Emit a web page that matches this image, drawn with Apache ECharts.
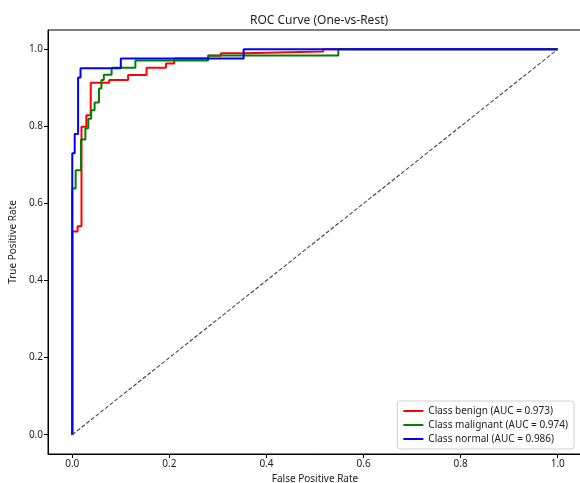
<!DOCTYPE html>
<html>
<head>
<meta charset="utf-8">
<script src="https://cdn.jsdelivr.net/npm/echarts@6/dist/echarts.min.js"></script>
<style>
  html, body { margin: 0; padding: 0; background: #fff; }
  #roc { width: 580px; height: 483px; }
</style>
</head>
<body>
<div id="roc"></div>
<script>
// ROC 曲线数据（拐点）
var benignFpr = [0, 0, 0.011, 0.011, 0.019, 0.019, 0.029, 0.029, 0.038, 0.038, 0.076, 0.076, 0.115, 0.115, 0.153, 0.153, 0.193, 0.193, 0.21, 0.21, 0.28, 0.28, 0.306, 0.306, 0.353, 0.353, 0.517, 0.517, 1];
var benignTpr = [0, 0.527, 0.527, 0.541, 0.541, 0.799, 0.799, 0.829, 0.829, 0.913, 0.913, 0.920, 0.920, 0.933, 0.933, 0.952, 0.952, 0.963, 0.963, 0.976, 0.976, 0.983, 0.983, 0.99, 0.99, 0.994, 0.994, 1, 1];

var malignantFpr = [0, 0, 0.007, 0.007, 0.018, 0.018, 0.027, 0.027, 0.033, 0.033, 0.039, 0.039, 0.046, 0.046, 0.055, 0.055, 0.06, 0.06, 0.065, 0.065, 0.081, 0.081, 0.13, 0.13, 0.28, 0.28, 0.548, 0.548, 1];
var malignantTpr = [0, 0.639, 0.639, 0.686, 0.686, 0.766, 0.766, 0.795, 0.795, 0.82, 0.82, 0.842, 0.842, 0.862, 0.862, 0.898, 0.898, 0.92, 0.92, 0.934, 0.934, 0.952, 0.952, 0.971, 0.971, 0.984, 0.984, 1, 1];

var normalFpr = [0, 0, 0.005, 0.005, 0.012, 0.012, 0.017, 0.017, 0.10, 0.10, 0.353, 0.353, 1];
var normalTpr = [0, 0.73, 0.73, 0.78, 0.78, 0.927, 0.927, 0.951, 0.951, 0.976, 0.976, 1, 1];

var chanceFpr = [0, 1];
var chanceTpr = [0, 1];

var classNames = ['Class benign (AUC = 0.973)', 'Class malignant (AUC = 0.974)', 'Class normal (AUC = 0.986)'];
var classColors = ['#ff0000', '#008000', '#0000ff'];
var tickValues = [0, 0.2, 0.4, 0.6, 0.8, 1.0];

function pairs(xs, ys) {
	var out = [];
	for (var i = 0; i < xs.length; i++) {
		out.push([xs[i], ys[i]]);
	}
	return out;
}

var chart = echarts.init(document.getElementById('roc'), null, { renderer: 'canvas' });

var font = 'Noto Sans';
var textColor = '#222';

function makeAxis(name, isX) {
	return {
		type: 'value',
		min: -0.05,
		max: 1.05,
		name: name,
		nameLocation: 'middle',
		nameGap: isX ? 19 : 23,
		nameTextStyle: { color: textColor, fontFamily: font, fontSize: 10 },
		axisLine: { show: true, onZero: false, lineStyle: { color: '#000', width: 1 } },
		axisTick: {
			show: true,
			inside: false,
			length: 4,
			customValues: tickValues,
			lineStyle: { color: '#000', width: 1 }
		},
		axisLabel: {
			customValues: tickValues,
			color: textColor,
			fontFamily: font,
			fontSize: 10,
			margin: 5,
			formatter: function (v) { return v.toFixed(1); }
		},
		splitLine: { show: false }
	};
}

var series = [];
var fprs = [benignFpr, malignantFpr, normalFpr];
var tprs = [benignTpr, malignantTpr, normalTpr];
for (var k = 0; k < 3; k++) {
	series.push({
		name: classNames[k],
		type: 'line',
		showSymbol: false,
		symbol: 'none',
		animation: false,
		lineStyle: { color: classColors[k], width: 2 },
		itemStyle: { color: classColors[k] },
		data: pairs(fprs[k], tprs[k])
	});
}
// 随机猜测对角线
series.push({
	name: 'chance',
	type: 'line',
	symbol: 'none',
	animation: false,
	lineStyle: { color: '#444', width: 1.1, type: [4, 2] },
	data: pairs(chanceFpr, chanceTpr)
});

var option = {
	animation: false,
	title: {
		text: 'ROC Curve (One-vs-Rest)',
		left: 314,
		textAlign: 'center',
		top: 10,
		textStyle: { color: textColor, fontFamily: font, fontSize: 12, fontWeight: 'normal' }
	},
	grid: {
		left: 48,
		right: -2,
		top: 30,
		bottom: 29,
		outerBoundsMode: 'none',
		containLabel: false,
		show: true,
		borderColor: '#000',
		borderWidth: 1,
		backgroundColor: 'transparent'
	},
	legend: {
		data: classNames,
		orient: 'vertical',
		right: 6,
		bottom: 34,
		icon: 'rect',
		itemWidth: 20,
		itemHeight: 2,
		itemGap: 4,
		padding: [5, 6, 5, 6],
		borderColor: '#d0d0d0',
		borderWidth: 1,
		borderRadius: 3,
		backgroundColor: '#fff',
		textStyle: { color: textColor, fontFamily: font, fontSize: 10 }
	},
	xAxis: makeAxis('False Positive Rate', true),
	yAxis: makeAxis('True Positive Rate', false),
	series: series
};

chart.setOption(option);
</script>
</body>
</html>
